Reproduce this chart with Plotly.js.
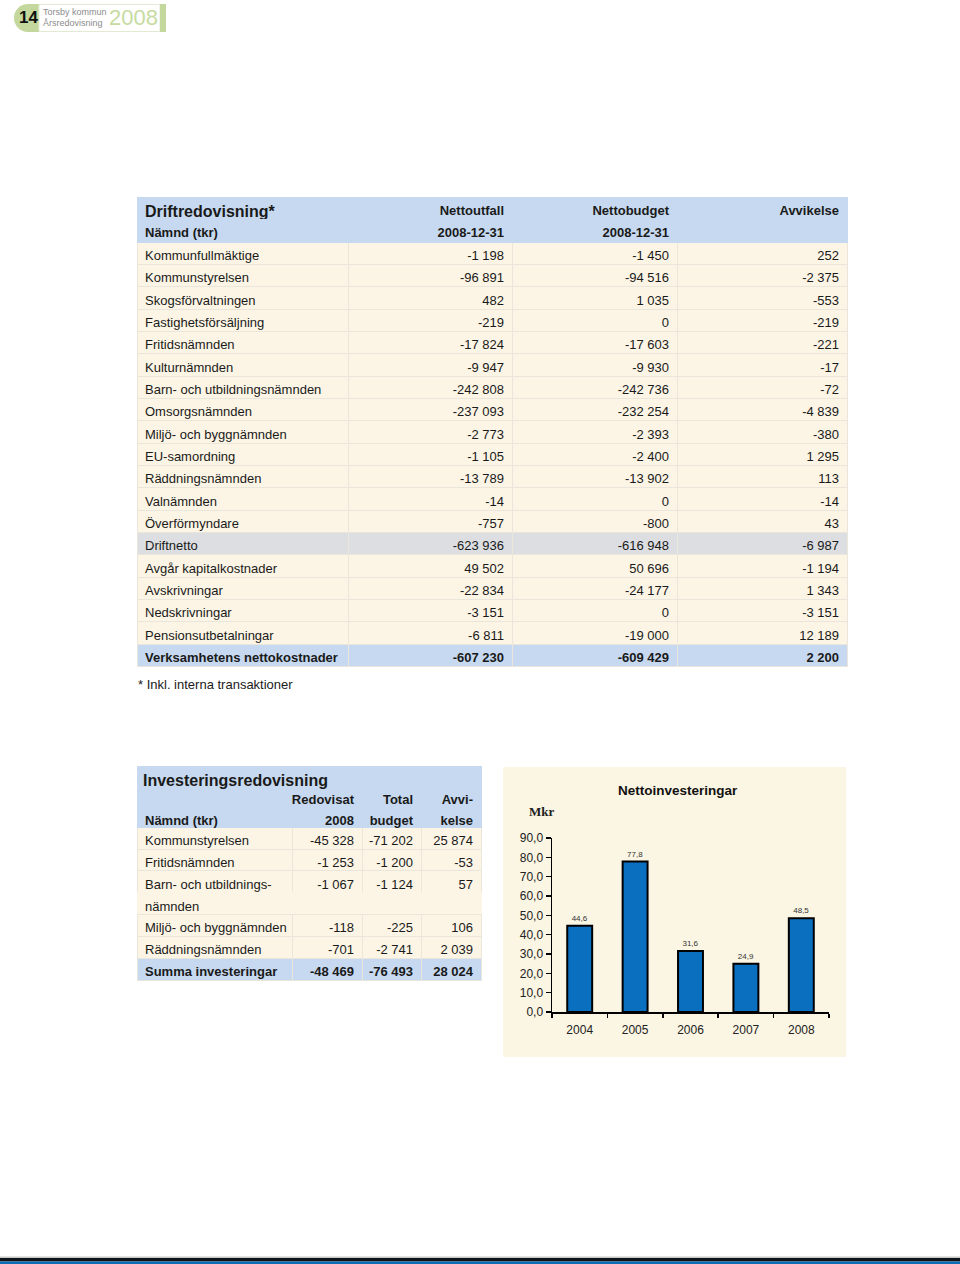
<!DOCTYPE html>
<html><head><meta charset="utf-8">
<script src="https://cdn.plot.ly/plotly-3.0.1.min.js"></script>
<style>html,body{margin:0;padding:0;background:#fff}#page{width:960px;height:1264px}</style>
</head><body><div id="page"></div>
<script>
// ---------- data ----------
const driftNamnder = ["Kommunfullmäktige","Kommunstyrelsen","Skogsförvaltningen","Fastighetsförsäljning","Fritidsnämnden","Kulturnämnden","Barn- och utbildningsnämnden","Omsorgsnämnden","Miljö- och byggnämnden","EU-samordning","Räddningsnämnden","Valnämnden","Överförmyndare","Driftnetto","Avgår kapitalkostnader","Avskrivningar","Nedskrivningar","Pensionsutbetalningar","Verksamhetens nettokostnader"];
const driftUtfall = [-1198,-96891,482,-219,-17824,-9947,-242808,-237093,-2773,-1105,-13789,-14,-757,-623936,49502,-22834,-3151,-6811,-607230];
const driftBudget = [-1450,-94516,1035,0,-17603,-9930,-242736,-232254,-2393,-2400,-13902,0,-800,-616948,50696,-24177,0,-19000,-609429];
const driftAvvikelse = [252,-2375,-553,-219,-221,-17,-72,-4839,-380,1295,113,-14,43,-6987,-1194,1343,-3151,12189,2200];
const driftHeader1 = ["Driftredovisning*","Nettoutfall","Nettobudget","Avvikelse"];
const driftHeader2 = ["Nämnd (tkr)","2008-12-31","2008-12-31",""];

const invNamnder = ["Kommunstyrelsen","Fritidsnämnden","Barn- och utbildnings-<br>nämnden","Miljö- och byggnämnden","Räddningsnämnden","Summa investeringar"];
const invRedovisat = [-45328,-1253,-1067,-118,-701,-48469];
const invBudget = [-71202,-1200,-1124,-225,-2741,-76493];
const invAvvikelse = [25874,-53,57,106,2039,28024];
const invHeader1 = ["","Redovisat","Total","Avvi-"];
const invHeader2 = ["Nämnd (tkr)","2008","budget","kelse"];

const years = ["2004","2005","2006","2007","2008"];
const nettoinvesteringar = [44.6,77.8,31.6,24.9,48.5];

// ---------- helpers ----------
const W = 960, H = 1264;
const px = x => x / W;
const py = y => 1 - y / H;
const FONT = "Liberation Sans, Arial, sans-serif";
const TXT = "#1a1a1a";
const BLUE = "#c6d9f0";
const CREAM = "#fcf5e5";
const GREY = "#dcdee1";
const LINE = "#ebe6dc";
const NB = "\u00A0";

// keep spaces non-breaking so the table never wraps a cell
const nb = s => String(s).replace(/ /g, NB);
function fmt(n){
  const s = Math.abs(n).toString().replace(/\B(?=(\d{3})+(?!\d))/g, NB);
  return (n < 0 ? "-" : "") + s;
}
const weights = (n, boldIdx) => Array.from({length: n}, (_, i) => boldIdx.includes(i) ? "bold" : "normal");

// ---------- table 1 ----------
const nD = driftNamnder.length;
const dRowFill = driftNamnder.map((name, i) => i === nD - 1 ? BLUE : (name === "Driftnetto" ? GREY : CREAM));
const dW = weights(nD, [nD - 1]);

const table1 = {
  type: "table",
  domain: {x: [px(137), px(847)], y: [py(677), py(197)]},
  columnwidth: [211, 164, 165, 170],
  header: {
    values: driftHeader1.map((h, c) => [nb(h), nb(driftHeader2[c])]),
    align: ["left", "right", "right", "right"],
    height: 22.6,
    fill: {color: BLUE},
    line: {color: BLUE, width: 1},
    font: {family: FONT, color: TXT, weight: "bold", size: [[16, 13], [13, 13], [13, 13], [13, 13]]}
  },
  cells: {
    values: [driftNamnder.map(nb), driftUtfall.map(fmt), driftBudget.map(fmt), driftAvvikelse.map(fmt)],
    align: ["left", "right", "right", "right"],
    height: 22.33,
    fill: {color: [dRowFill, dRowFill, dRowFill, dRowFill]},
    line: {color: LINE, width: 1},
    font: {family: FONT, color: TXT, size: 13, weight: [dW, dW, dW, dW]}
  },
  hoverinfo: "none"
};

// ---------- table 2 (a name with <br> continues on a second table row) ----------
const nI = invNamnder.length;
const invRows = [];
invNamnder.forEach((name, i) => {
  const parts = name.split("<br>");
  invRows.push({name: nb(parts[0]), r: fmt(invRedovisat[i]), b: fmt(invBudget[i]), a: fmt(invAvvikelse[i]),
                sum: i === nI - 1, cont: false});
  parts.slice(1).forEach(p => invRows.push({name: nb(p), r: "", b: "", a: "", sum: false, cont: true}));
});
const iFill = invRows.map(r => r.sum ? BLUE : CREAM);
const iLine = invRows.map(r => r.cont ? CREAM : LINE);
const iW = invRows.map(r => r.sum ? "bold" : "normal");

const table2 = {
  type: "table",
  domain: {x: [px(137), px(481)], y: [py(1050), py(766)]},
  columnwidth: [155, 70, 59, 60],
  header: {
    values: invHeader1.map((h, c) => ["", nb(h), nb(invHeader2[c])]),
    align: ["left", "right", "right", "right"],
    height: 20.4,
    fill: {color: BLUE},
    line: {color: BLUE, width: 1},
    font: {family: FONT, color: TXT, size: 13, weight: "bold"}
  },
  cells: {
    values: [invRows.map(r => r.name), invRows.map(r => r.r), invRows.map(r => r.b), invRows.map(r => r.a)],
    align: ["left", "right", "right", "right"],
    height: 21.85,
    fill: {color: [iFill, iFill, iFill, iFill]},
    line: {color: [iLine, iLine, iLine, iLine], width: 1},
    font: {family: FONT, color: TXT, size: 13, weight: [iW, iW, iW, iW]}
  },
  hoverinfo: "none"
};

// ---------- bar chart ----------
const bars = {
  type: "bar",
  x: years,
  y: nettoinvesteringar,
  xaxis: "x", yaxis: "y",
  marker: {color: "#0a6fbf", line: {color: "#000", width: 2}},
  texttemplate: "%{y:.1f}",
  textposition: "outside",
  textfont: {family: FONT, size: 8, color: "#333"},
  cliponaxis: false,
  hoverinfo: "none"
};

// ---------- layout ----------
const ann = (text, x, y, opts) => Object.assign({
  text, x: px(x), y: py(y), xref: "paper", yref: "paper", showarrow: false,
  xanchor: "left", yanchor: "middle", font: {family: FONT, size: 13, color: TXT}
}, opts || {});

const layout = {
  width: W, height: H,
  margin: {l: 0, r: 0, t: 0, b: 0},
  paper_bgcolor: "#fff",
  plot_bgcolor: "rgba(0,0,0,0)",
  separators: ", ",
  showlegend: false,
  bargap: 0.55,
  xaxis: {
    domain: [px(552), px(829)], anchor: "y", type: "category",
    range: [-0.5, 4.5],
    showline: true, linecolor: "#000", linewidth: 2,
    ticks: "outside", tickson: "boundaries", ticklen: 4, tickwidth: 1.5, tickcolor: "#000",
    ticklabelstandoff: 6,
    tickfont: {family: FONT, size: 12, color: "#222"},
    showgrid: false, zeroline: false, fixedrange: true
  },
  yaxis: {
    domain: [py(1012), py(838)], anchor: "x",
    range: [0, 90], tick0: 0, dtick: 10, tickformat: ".1f",
    showline: true, linecolor: "#000", linewidth: 1.5,
    ticks: "outside", ticklen: 5, tickwidth: 1.5, tickcolor: "#000",
    tickfont: {family: FONT, size: 12, color: "#222"},
    showgrid: false, zeroline: false, fixedrange: true
  },
  shapes: [
    // chart panel
    {type: "rect", xref: "paper", yref: "paper", x0: px(503), x1: px(846), y0: py(1057), y1: py(767),
     fillcolor: "#fbf5e3", line: {width: 0}, layer: "below"},
    // logo
    {type: "circle", xref: "paper", yref: "paper", x0: px(14), x1: px(42), y0: py(32), y1: py(4),
     fillcolor: "#c4d79c", line: {width: 0}, layer: "below"},
    {type: "rect", xref: "paper", yref: "paper", x0: px(28), x1: px(40), y0: py(32), y1: py(4),
     fillcolor: "#c4d79c", line: {width: 0}, layer: "below"},
    {type: "rect", xref: "paper", yref: "paper", x0: px(39), x1: px(160), y0: py(31.5), y1: py(4.5),
     fillcolor: "#ffffff", line: {color: "#e3ead3", width: 1}, layer: "below"},
    {type: "rect", xref: "paper", yref: "paper", x0: px(160), x1: px(166), y0: py(32), y1: py(4),
     fillcolor: "#c4d79c", line: {width: 0}, layer: "below"},
    // bottom rules
    {type: "rect", xref: "paper", yref: "paper", x0: 0, x1: 1, y0: py(1258), y1: py(1256.5),
     fillcolor: "#c9c9c9", line: {width: 0}},
    {type: "rect", xref: "paper", yref: "paper", x0: 0, x1: 1, y0: py(1261.5), y1: py(1258),
     fillcolor: "#101418", line: {width: 0}},
    {type: "rect", xref: "paper", yref: "paper", x0: 0, x1: 1, y0: 0, y1: py(1261.5),
     fillcolor: "#0b6db3", line: {width: 0}}
  ],
  annotations: [
    ann("<b>14</b>", 17, 18, {font: {family: FONT, size: 17, color: "#111"}}),
    ann("Torsby kommun", 41, 12, {font: {family: FONT, size: 9, color: "#8c8c8c"}}),
    ann("Årsredovisning", 41, 23, {font: {family: FONT, size: 9, color: "#8c8c8c"}}),
    ann("2008", 107, 18, {font: {family: FONT, size: 22, color: "#c7dba2"}}),
    ann("* Inkl. interna transaktioner", 136, 684),
    ann("<b>Investeringsredovisning</b>", 141, 780, {font: {family: FONT, size: 16, color: TXT}}),
    ann("<b>Nettoinvesteringar</b>", 678, 790, {xanchor: "center", font: {family: FONT, size: 13.5, color: "#111"}}),
    ann("<b>Mkr</b>", 527, 811, {font: {family: "Liberation Serif, Times New Roman, serif", size: 13, color: "#222"}})
  ]
};

Plotly.newPlot("page", [table1, table2, bars], layout, {staticPlot: true, displayModeBar: false});
</script>
</body></html>
